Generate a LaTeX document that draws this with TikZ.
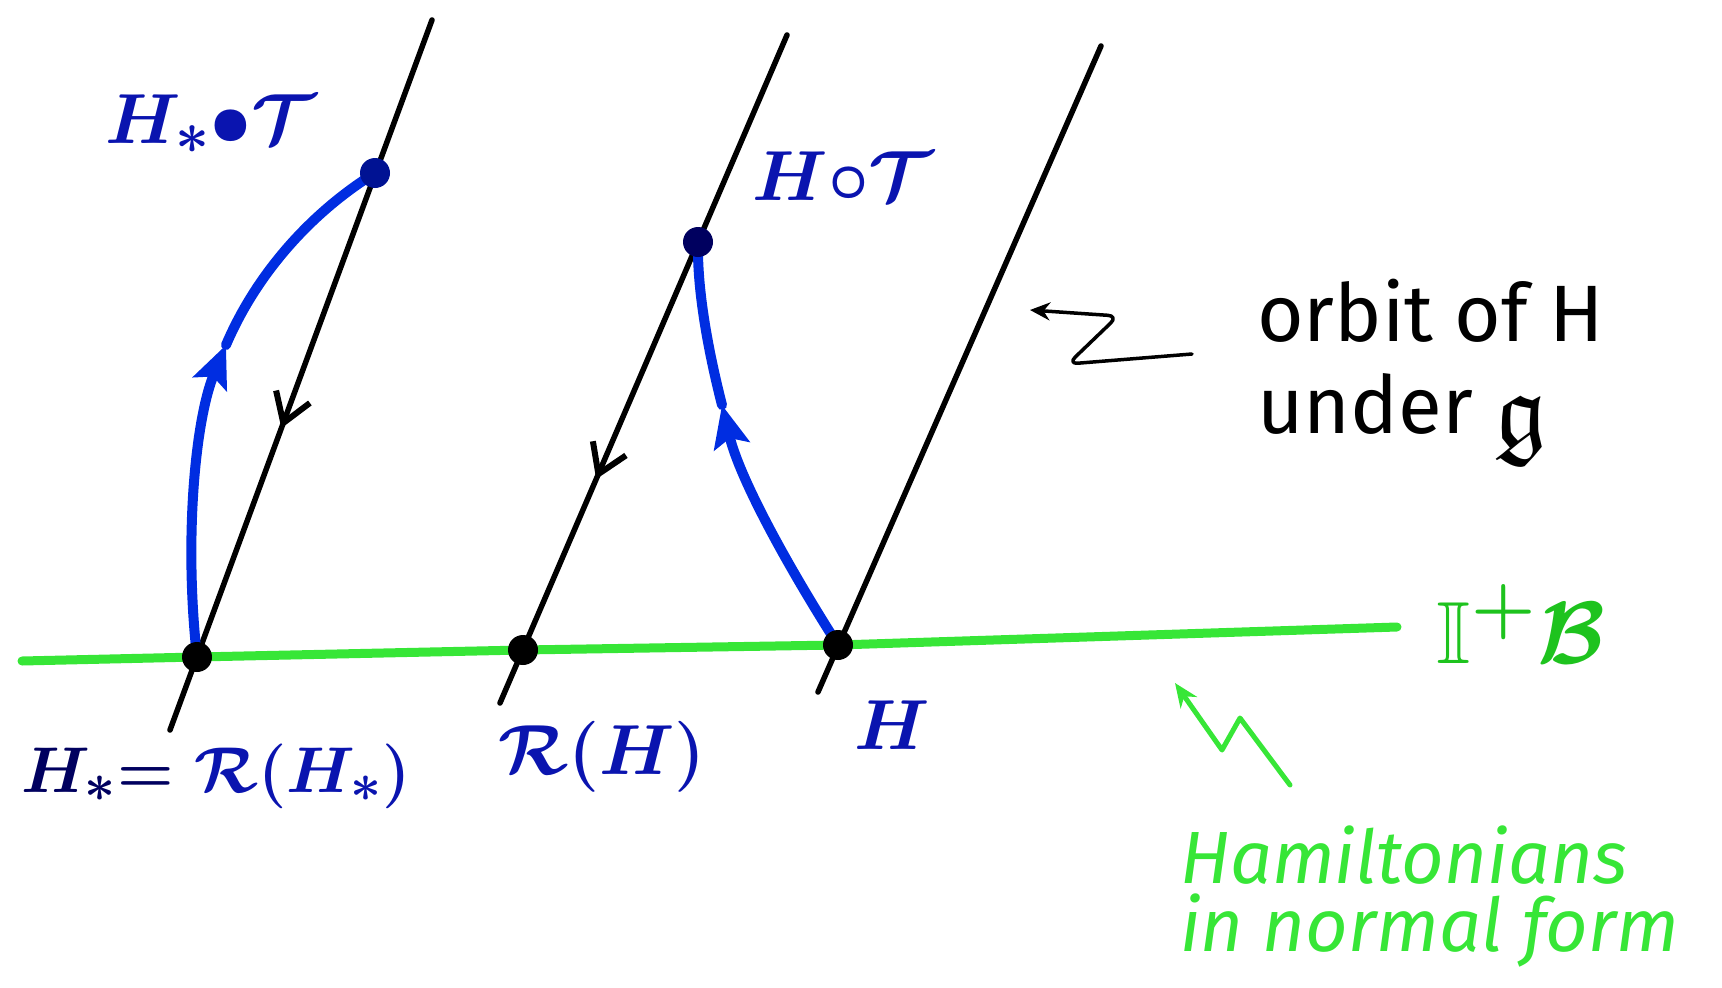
\documentclass[tikz,border=0pt]{standalone}
\usepackage{graphicx}
\usepackage{amssymb}
\usepackage{fontspec}
\setmainfont{Fira Sans}
\usetikzlibrary{arrows.meta,decorations.markings}
\definecolor{pen}{RGB}{0,45,225}
\definecolor{ink}{RGB}{10,20,175}
\definecolor{navy}{RGB}{0,0,95}
\definecolor{grn}{RGB}{55,230,55}
\definecolor{dgrn}{RGB}{30,195,30}
\newcommand{\mlab}[2][2.85]{\scalebox{#1}{\fontsize{24.88}{30}\selectfont\boldmath$#2$}}
\tikzset{
  orbitline/.style={line width=5.5pt, black, line cap=round},
  flow/.style={line width=10pt, pen, line cap=round},
  normalline/.style={line width=9pt, grn, line cap=round, line join=round},
  dotnode/.style={circle, fill=#1, inner sep=0pt, minimum size=30pt},
  mlabel/.style={text=ink, inner sep=0pt},
  midarrow/.style={postaction={decorate}, decoration={markings,
     mark=at position #1 with {\arrow{Straight Barb[length=28pt,width=36pt,line width=6pt]}}}},
  bluetip/.style={-{Stealth[length=42pt,width=36pt,inset=8pt]}},
}
\begin{document}
\begin{tikzpicture}[x=1pt,y=-1pt]
\useasboundingbox (0,0) rectangle (1722,988);
% free ends of the orbit lines
\coordinate (L1t) at (432,20);  \coordinate (L1b) at (170,730);
\coordinate (L2t) at (787,35);  \coordinate (L2b) at (500,703);
\coordinate (L3t) at (1101,46); \coordinate (L3b) at (818,692);
\coordinate (g0) at (22,661);   \coordinate (g1) at (1397,627);
% points
\coordinate (P1) at (197,657);
\coordinate (P2) at (523,650);
\coordinate (P3) at (838,645);
\coordinate (T1) at (375,173);
\coordinate (T2) at (698,242);
\coordinate (A1) at (226,345);
\coordinate (A2) at (722,405);

% green line of normal forms
\draw[normalline] (g0) -- (P1) -- (P2) -- (P3) -- (g1);

% orbit lines
\draw[orbitline, midarrow=0.575] (L1t) -- (L1b);
\draw[orbitline, midarrow=0.665] (L2t) -- (L2b);
\draw[orbitline] (L3t) -- (L3b);

% blue flows
\draw[flow, bluetip] (P1) .. controls (184,540) and (195,420) .. (A1);
\draw[flow] (A1) .. controls (258,270) and (315,210) .. (T1);
\draw[flow, bluetip] (P3) .. controls (790,570) and (740,480) .. (A2);
\draw[flow] (A2) .. controls (708,350) and (697,290) .. (T2);

% dots
\node[dotnode=black] (d1) at (P1) {};
\node[dotnode=black] (d2) at (P2) {};
\node[dotnode=black] (d3) at (P3) {};
\node[dotnode=navy!60!pen] (d4) at (T1) {};
\node[dotnode=navy] (d5) at (T2) {};

% labels
\node[mlabel] (lHsT) at (211,124) {\mlab{H_{*}{\bullet}\mathcal{T}}};
\node[mlabel] (lHT) at (843,176) {\mlab{H{\circ}\mathcal{T}}};
\node[mlabel] (lHs) at (216,776) {\mlab[2.6]{\color{navy}H_{*}{=}\;\color{ink}\mathcal{R}(H_{*})}};
\node[mlabel] (lRH) at (602,757) {\mlab{\mathcal{R}(H)}};
\node[mlabel] (lH) at (892,725) {\mlab{H}};
\node[mlabel, text=dgrn] (lIB) at (1521,624) {\mlab[3.55]{\mathbb{I}^{+}\mathcal{B}}};

% orbit annotation
\node[anchor=west, align=left, inner sep=0pt, font=\fontsize{80}{92}\selectfont] (orb) at (1257,372)
  {orbit of H\\under \raisebox{-12pt}{\fontsize{105}{105}\selectfont$\mathfrak{g}$}};
\coordinate (s1) at (1192,354);
\coordinate (s2) at (1068,364);
\coordinate (s3) at (1118,316);
\coordinate (s4) at (1030,310);
\draw[line width=3.5pt, line cap=round, line join=round, rounded corners=10pt, -{Stealth[length=20pt,width=18pt]}]
  (s1) -- (s2) -- (s3) -- (s4);

% normal form annotation
\node[anchor=north west, align=left, inner sep=0pt, text=grn, font=\fontsize{74}{68}\selectfont\itshape] (nf) at (1180,826)
  {Hamiltonians\\in normal form};
\coordinate (q1) at (1290,785);
\coordinate (q2) at (1240,718);
\coordinate (q3) at (1222,750);
\coordinate (q4) at (1175,683);
\draw[grn, line width=5pt, line cap=round, line join=round, -{Stealth[length=24pt,width=20pt]}]
  (q1) -- (q2) -- (q3) -- (q4);
\end{tikzpicture}
\end{document}
